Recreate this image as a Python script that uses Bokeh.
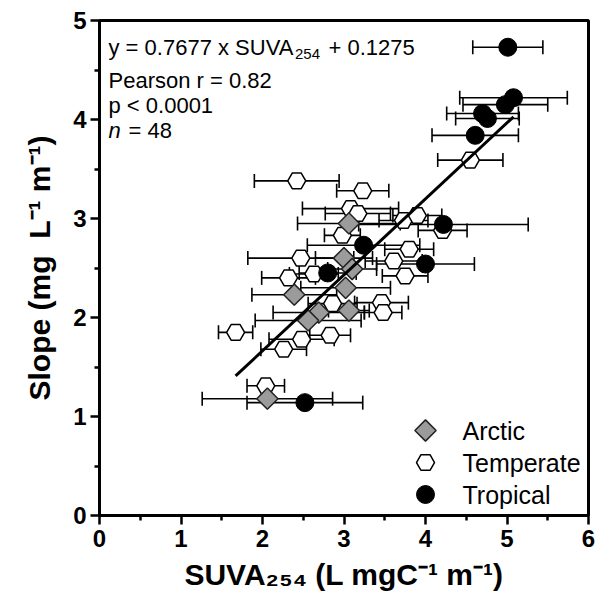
import math
from bokeh.plotting import figure
from bokeh.models import ColumnDataSource, Whisker, TeeHead, Range1d, FixedTicker
from bokeh.core.properties import value
from bokeh.embed import file_html
from bokeh.resources import INLINE

# ---- data ----
arctic_x = [3.06, 3.00, 3.10, 3.02, 3.06, 2.39, 2.69, 2.56, 2.06]
arctic_y = [2.95, 2.60, 2.49, 2.30, 2.07, 2.23, 2.05, 1.97, 1.18]
arctic_err = [0.63, 0.35, 0.30, 0.55, 0.25, 0.52, 0.56, 0.65, 0.80]

temperate_x = [4.55, 2.42, 3.23, 3.08, 3.17, 2.98, 3.73, 3.90, 4.21, 3.80, 3.61, 3.75,
               3.46, 3.48, 2.47, 2.32, 2.63, 1.67, 2.48, 2.26, 2.83, 2.04, 2.86]
temperate_y = [3.59, 3.38, 3.28, 3.10, 3.05, 2.83, 2.98, 3.03, 2.88, 2.69, 2.57, 2.42,
               2.15, 2.05, 2.60, 2.40, 2.44, 1.85, 1.78, 1.68, 1.82, 1.31, 2.14]
temperate_err = [0.40, 0.52, 0.32, 0.59, 0.40, 0.22, 0.30, 0.30, 0.30, 0.30, 0.35, 0.28,
                 0.33, 0.23, 0.65, 0.33, 0.30, 0.21, 0.40, 0.28, 0.25, 0.23, 0.30]

tropical_x = [5.01, 5.08, 4.98, 4.70, 4.76, 4.61, 4.22, 3.24, 2.80, 4.00, 2.52]
tropical_y = [4.73, 4.22, 4.15, 4.06, 4.01, 3.84, 2.94, 2.73, 2.45, 2.54, 1.14]
tropical_err = [0.43, 0.66, 0.52, 0.44, 0.39, 0.53, 1.04, 0.69, 0.35, 0.60, 0.71]

fit_slope = 0.7677
fit_intercept = 0.1275

x_ticks = [0, 1, 2, 3, 4, 5, 6]
y_ticks = [0, 1, 2, 3, 4, 5]
x_title = "SUVA\u2082\u2085\u2084 (L mgC\u207b\u00b9 m\u207b\u00b9)"
y_title = "Slope (mg\u00a0 L\u207b\u00b9 m\u207b\u00b9)"

FONT = "Liberation Sans"
W, H = 597, 602
L, R, T, B = 99, 9, 20, 87
XMIN, XMAX, YMIN, YMAX = 0, 6, 0, 5
PX_X = (W - L - R) / (XMAX - XMIN)
PX_Y = (H - T - B) / (YMAX - YMIN)

def dx(px):  # canvas x pixel -> data x
    return XMIN + (px - L) / PX_X

def dy(py):  # canvas y pixel -> data y
    return YMIN + (H - B - py) / PX_Y

p = figure(width=W, height=H, output_backend="svg", toolbar_location=None,
           x_range=Range1d(XMIN, XMAX), y_range=Range1d(YMIN, YMAX),
           min_border_left=L, min_border_right=R, min_border_top=T, min_border_bottom=B)
p.grid.visible = False
p.background_fill_color = "white"
p.border_fill_color = "white"
p.outline_line_color = "black"
p.outline_line_width = 3

for ax, ticks in ((p.xaxis[0], x_ticks), (p.yaxis[0], y_ticks)):
    ax.ticker = FixedTicker(ticks=ticks, minor_ticks=[t + 0.5 for t in ticks[:-1]])
    ax.axis_line_width = 3
    ax.major_tick_line_width = 2.5
    ax.minor_tick_line_width = 2.5
    ax.major_tick_out = 9
    ax.major_tick_in = 0
    ax.minor_tick_out = 5
    ax.minor_tick_in = 0
    ax.major_label_text_font = FONT
    ax.major_label_text_font_style = "bold"
    ax.major_label_text_font_size = "24px"
    ax.major_label_text_color = "black"
    ax.axis_label_text_font = FONT
    ax.axis_label_text_font_style = "bold"
    ax.axis_label_text_font_size = "30px"
    ax.axis_label_text_color = "black"

p.xaxis.axis_label = x_title
p.yaxis.axis_label = y_title
p.xaxis.major_label_standoff = 5
p.yaxis.major_label_standoff = 4
p.xaxis.axis_label_standoff = 8
p.yaxis.axis_label_standoff = 14

# ---- error bars and markers ----
groups = [
    (temperate_x, temperate_y, temperate_err),
    (arctic_x, arctic_y, arctic_err),
    (tropical_x, tropical_y, tropical_err),
]
sources = []
for xs, ys, es in groups:
    src = ColumnDataSource(dict(x=xs, y=ys,
                                lo=[a - e for a, e in zip(xs, es)],
                                hi=[a + e for a, e in zip(xs, es)]))
    sources.append(src)
    w = Whisker(base="y", lower="lo", upper="hi", dimension="width", source=src,
                line_color="black", line_width=1.6,
                lower_head=TeeHead(size=14, line_width=1.6, line_color="black"),
                upper_head=TeeHead(size=14, line_width=1.6, line_color="black"))
    p.add_layout(w)

p.scatter("x", "y", source=sources[0], marker="hex", size=18,
          fill_color="white", line_color="black", line_width=1.5)
p.scatter("x", "y", source=sources[1], marker="square", angle=math.pi / 4, size=15,
          fill_color="#9b9b9b", line_color="#222222", line_width=1.5)
p.scatter("x", "y", source=sources[2], marker="circle", size=18,
          fill_color="black", line_color="black", line_width=1)

all_x = arctic_x + temperate_x + tropical_x
x0, x1 = min(all_x), max(all_x)
p.line([x0, x1], [fit_slope * x0 + fit_intercept, fit_slope * x1 + fit_intercept],
       line_color="black", line_width=3)

# ---- annotation text ----
tf = value(FONT)
fs = value("22px")
def note(x, y, s, size=fs, style="normal"):
    p.text(x=[x], y=[y], text=[s], text_font=tf, text_font_size=size,
           text_font_style=style, text_baseline="alphabetic", text_color="black")

note(dx(108), dy(47), "y = 0.7677 x SUVA")
note(dx(294.5), dy(53), "254", size=value("15px"))
note(dx(328), dy(47), "+ 0.1275")
note(dx(108), dy(80), "Pearson r = 0.82")
note(dx(108), dy(105), "p < 0.0001")
note(dx(108), dy(130), "n", style="italic")
note(dx(128), dy(130), "= 48")

# ---- legend (drawn manually) ----
leg_names = ["Arctic", "Temperate", "Tropical"]
leg_y = [dy(430), dy(462), dy(494)]
leg_x = dx(425)
p.scatter([leg_x], [leg_y[0]], marker="square", angle=math.pi / 4, size=15,
          fill_color="#9b9b9b", line_color="#222222", line_width=1.5)
p.scatter([leg_x], [leg_y[1]], marker="hex", size=18,
          fill_color="white", line_color="black", line_width=1.5)
p.scatter([leg_x], [leg_y[2]], marker="circle", size=18,
          fill_color="black", line_color="black")
p.text(x=[dx(462)] * 3, y=leg_y, text=leg_names, text_font=tf,
       text_font_size=value("25px"), text_baseline="middle", text_color="black")

open("out.html", "w").write(file_html(p, INLINE))
